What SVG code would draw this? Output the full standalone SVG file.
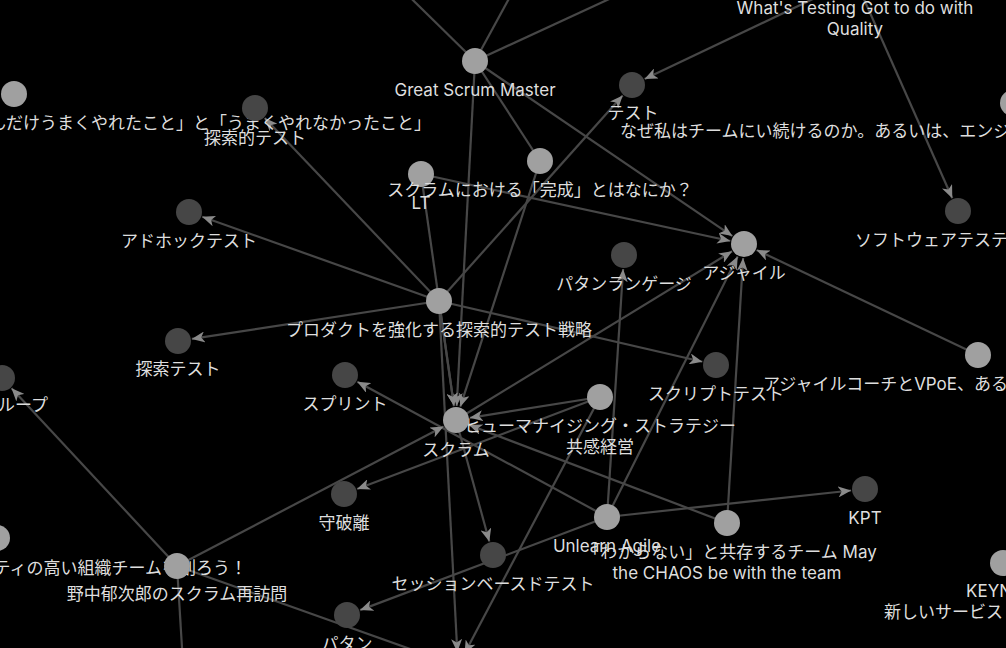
<svg xmlns="http://www.w3.org/2000/svg" width="1006" height="648" viewBox="0 0 1006 648">
<style>
.e{stroke:#474747;stroke-width:2.2;fill:none}
.a{marker-end:url(#arr)}
.l{fill:#a0a0a0}
.d{fill:#464646}
text{font-family:"Inter","Noto Sans CJK JP",sans-serif;font-size:17px;fill:#dedede;text-anchor:middle}
</style>
<defs>
<marker id="arr" markerUnits="userSpaceOnUse" markerWidth="14" markerHeight="11" refX="13" refY="5.5" orient="auto">
<path d="M0,0 L13,5.5 L0,11 L3.5,5.5 z" fill="#8a8a8a"/>
</marker>
</defs>
<rect width="1006" height="648" fill="#000"/>
<g id="edges">
<line class="e" x1="475" y1="61" x2="372" y2="-40"/>
<line class="e" x1="475" y1="61" x2="530" y2="-40"/>
<line class="e" x1="475" y1="61" x2="672" y2="-30"/>
<line class="e a" x1="475" y1="61" x2="456.7" y2="406"/>
<line class="e" x1="475" y1="61" x2="540" y2="161"/>
<line class="e a" x1="475" y1="61" x2="732.4" y2="236.1"/>
<line class="e a" x1="855" y1="-21" x2="644.6" y2="79"/>
<line class="e a" x1="855" y1="-21" x2="952.3" y2="198.2"/>
<line class="e a" x1="439" y1="301" x2="622.7" y2="95.4"/>
<line class="e a" x1="439" y1="301" x2="264.7" y2="118.1"/>
<line class="e a" x1="439" y1="301" x2="202.2" y2="216.7"/>
<line class="e a" x1="439" y1="301" x2="191.8" y2="338.9"/>
<line class="e a" x1="439" y1="301" x2="702.4" y2="361.8"/>
<line class="e a" x1="439" y1="301" x2="454" y2="406.1"/>
<line class="e a" x1="439" y1="301" x2="457.3" y2="652"/>
<line class="e a" x1="421" y1="174" x2="454" y2="406.1"/>
<line class="e a" x1="421" y1="174" x2="730.3" y2="241"/>
<line class="e a" x1="540" y1="161" x2="460.3" y2="406.7"/>
<line class="e a" x1="456" y1="420" x2="732.1" y2="251.3"/>
<line class="e a" x1="607" y1="517" x2="737.7" y2="256.5"/>
<line class="e a" x1="727" y1="523" x2="743.1" y2="258"/>
<line class="e a" x1="978" y1="355" x2="756.6" y2="250"/>
<line class="e a" x1="607" y1="517" x2="623.1" y2="269"/>
<line class="e a" x1="607" y1="517" x2="851.1" y2="490.5"/>
<line class="e a" x1="607" y1="517" x2="360.1" y2="610.1"/>
<line class="e a" x1="607" y1="517" x2="357.3" y2="381.7"/>
<line class="e a" x1="600" y1="397" x2="469.8" y2="417.8"/>
<line class="e a" x1="600" y1="397" x2="357.1" y2="489"/>
<line class="e a" x1="600" y1="397" x2="464.5" y2="653.6"/>
<line class="e a" x1="727" y1="523" x2="469.1" y2="425"/>
<line class="e a" x1="177" y1="566" x2="443.6" y2="426.5"/>
<line class="e a" x1="177" y1="566" x2="11.5" y2="388.2"/>
<line class="e a" x1="177" y1="566" x2="444.8" y2="661.3"/>
<line class="e" x1="177" y1="566" x2="184" y2="680"/>
<line class="e a" x1="456" y1="420" x2="489.3" y2="541.5"/>
</g>
<g id="n-great-scrum-master"><circle class="l" cx="475" cy="61" r="13"/><text x="475" y="96">Great Scrum Master</text></g>
<g id="n-test"><circle class="d" cx="632" cy="85" r="13"/><text x="633" y="119">テスト</text></g>
<g id="n-whats-testing"><circle class="l" cx="855" cy="-21" r="13"/><text x="855" y="14">What's Testing Got to do with</text><text x="855" y="35">Quality</text></g>
<g id="n-left-top"><circle class="l" cx="14" cy="94" r="13"/><text x="431" y="129" style="text-anchor:end">んだけうまくやれたこと」と「うまくやれなかったこと」</text></g>
<g id="n-tansakuteki"><circle class="d" cx="255" cy="108" r="13"/><text x="255" y="144">探索的テスト</text></g>
<g id="n-lt"><circle class="l" cx="421" cy="174" r="13"/><text x="421" y="209">LT</text></g>
<g id="n-kansei"><circle class="l" cx="540" cy="161" r="13"/><text x="540" y="196">スクラムにおける「完成」とはなにか？</text></g>
<g id="n-adhoc"><circle class="d" cx="189" cy="212" r="13"/><text x="189" y="247">アドホックテスト</text></g>
<g id="n-agile"><circle class="l" cx="744" cy="244" r="13"/><text x="744" y="279">アジャイル</text></g>
<g id="n-patlang"><circle class="d" cx="624" cy="255" r="13"/><text x="624" y="290">パタンランゲージ</text></g>
<g id="n-software"><circle class="d" cx="958" cy="211" r="13"/><text x="855" y="246" style="text-anchor:start">ソフトウェアテステ</text></g>
<g id="n-naze"><circle class="l" cx="1013" cy="103" r="13"/><text x="620" y="137" style="text-anchor:start">なぜ私はチームにい続けるのか。あるいは、エンジ</text></g>
<g id="n-product"><circle class="l" cx="439" cy="301" r="13"/><text x="439" y="336">プロダクトを強化する探索的テスト戦略</text></g>
<g id="n-tansaku"><circle class="d" cx="178" cy="341" r="13"/><text x="178" y="375">探索テスト</text></g>
<g id="n-sprint"><circle class="d" cx="345" cy="375" r="13"/><text x="345" y="410">スプリント</text></g>
<g id="n-script"><circle class="d" cx="716" cy="365" r="13"/><text x="716" y="400">スクリプトテスト</text></g>
<g id="n-vpoe"><circle class="l" cx="978" cy="355" r="13"/><text x="763" y="390" style="text-anchor:start">アジャイルコーチとVPoE、ある</text></g>
<g id="n-loop"><circle class="d" cx="2" cy="378" r="13"/><text x="48" y="411" style="text-anchor:end">ループ</text></g>
<g id="n-human"><circle class="l" cx="600" cy="397" r="13"/><text x="600" y="432">ヒューマナイジング・ストラテジー</text><text x="600" y="453">共感経営</text></g>
<g id="n-scrum"><circle class="l" cx="456" cy="420" r="13"/><text x="456" y="456">スクラム</text></g>
<g id="n-shuhari"><circle class="d" cx="344" cy="494" r="13"/><text x="344" y="529">守破離</text></g>
<g id="n-kpt"><circle class="d" cx="865" cy="489" r="13"/><text x="865" y="524">KPT</text></g>
<g id="n-unlearn"><circle class="l" cx="607" cy="517" r="13"/><text x="607" y="552">Unlearn Agile</text></g>
<g id="n-wakaranai"><circle class="l" cx="727" cy="523" r="13"/><text x="730" y="558">「わからない」と共存するチーム May</text><text x="727" y="579">the CHAOS be with the team</text></g>
<g id="n-session"><circle class="d" cx="493" cy="555" r="13"/><text x="493" y="590">セッションベースドテスト</text></g>
<g id="n-tei"><circle class="l" cx="-3" cy="538" r="13"/><text x="247" y="574" style="text-anchor:end">ティの高い組織チームを創ろう！</text></g>
<g id="n-nonaka"><circle class="l" cx="177" cy="566" r="13"/><text x="177" y="600">野中郁次郎のスクラム再訪問</text></g>
<g id="n-patan"><circle class="d" cx="347" cy="615" r="13"/><text x="347" y="650">パタン</text></g>
<g id="n-keynote"><circle class="l" cx="1003" cy="563" r="13"/><text x="966" y="597" style="text-anchor:start">KEYN</text><text x="884" y="618" style="text-anchor:start">新しいサービス</text></g>
</svg>
